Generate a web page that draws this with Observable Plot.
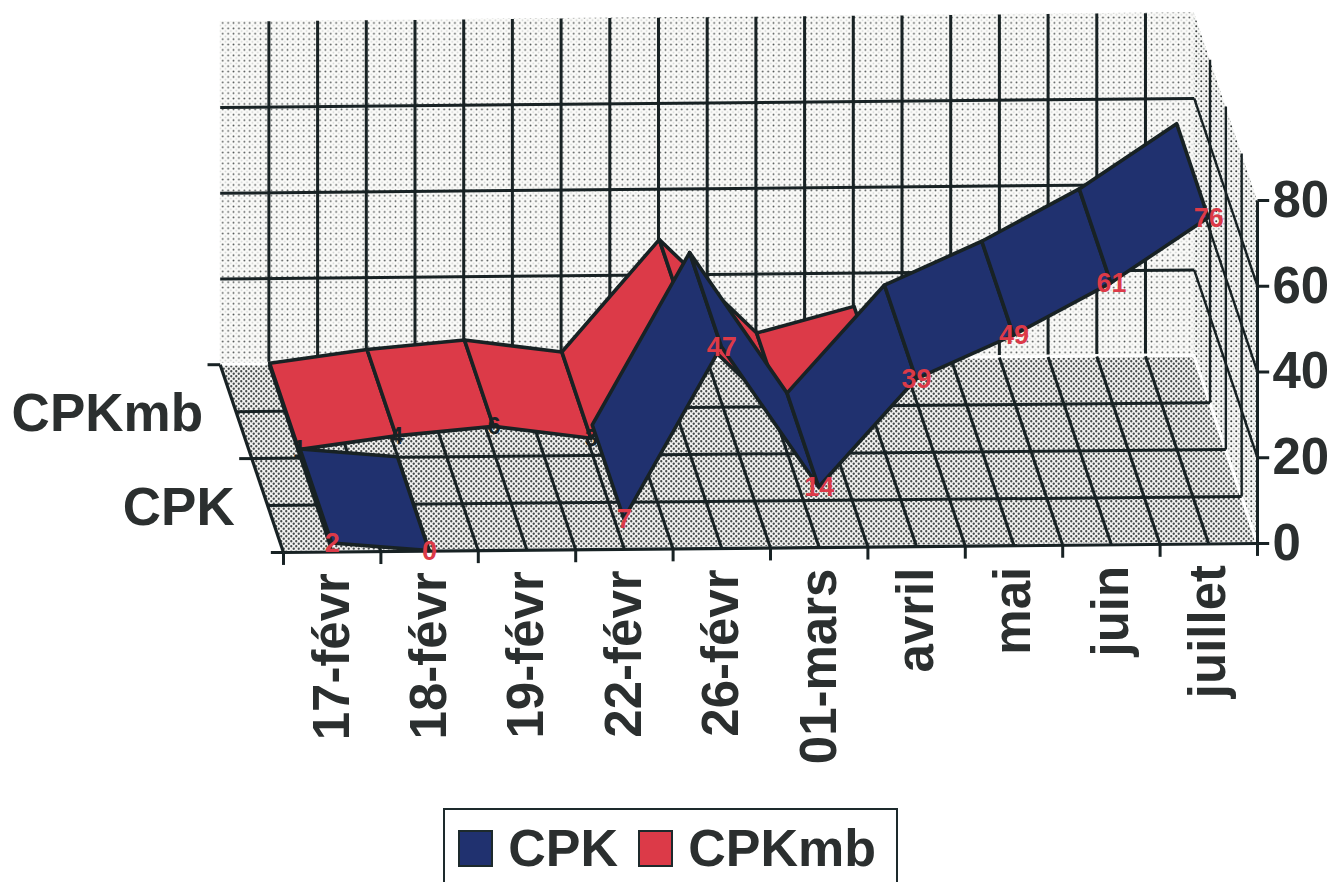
<!DOCTYPE html>
<html lang="fr">
<head>
<meta charset="utf-8">
<script src="https://cdn.jsdelivr.net/npm/d3@7"></script>
<script src="https://cdn.jsdelivr.net/npm/@observablehq/plot@0.6"></script>
<style>
  html, body { margin: 0; background: #fff; overflow: hidden; }
  #legend {
    box-sizing: border-box; margin: 2px 0 0 443px; width: 455px; height: 74px;
    border: 2px solid #1d2a2c; border-bottom: none;
    font: bold 52px "Liberation Sans", Arial, sans-serif; color: #2b2f2f;
    display: flex; align-items: flex-start; padding: 10px 0 0 13px;
  }
  #legend i { box-sizing: border-box; width: 37px; height: 37px; margin: 10px 15px 0 0; border: 2px solid #1d2a2c; display: block; }
  #legend span { margin-right: 20px; line-height: 56px; }
</style>
</head>
<body>
<div id="chart"></div>
<div id="legend"></div>
<script>
const categories = ["17-févr", "18-févr", "19-févr", "22-févr", "26-févr", "01-mars", "avril", "mai", "juin", "juillet"];
const cpk = [2, 0, null, 7, 47, 14, 39, 49, 61, 76];
const cpkmb = [1, 4, 6, 3, 29, 7, 13, null, null, null];
const valueTicks = [0, 20, 40, 60, 80];
const seriesNames = ["CPK", "CPKmb"];
const colors = {CPK: "#20316f", CPKmb: "#dc3a48"};
const ink = "#182224";

// Oblique 3D: a point is (category position, depth 0..1, value); depth and
// category position both shift the plotted coordinates.
const sx = (i, d) => i - 0.65 * d;
const sy = (i, d, v) => v + 43.8 * d + 0.21 * i;

const seg = (rows, o) => Plot.link(rows, {
  x1: (r) => sx(r[0], r[1]), y1: (r) => sy(r[0], r[1], r[2]),
  x2: (r) => sx(r[3], r[4]), y2: (r) => sy(r[3], r[4], r[5]),
  stroke: ink, strokeWidth: 3, ...o
});

// A planar patch spanned between two edges, each row holding [i1,d1,v1,i2,d2,v2]
const patch = (rows, o) => Plot.area(rows, {
  x1: (r) => sx(r[0], r[1]), y1: (r) => sy(r[0], r[1], r[2]),
  x2: (r) => sx(r[3], r[4]), y2: (r) => sy(r[3], r[4], r[5]),
  ...o
});

// Ribbon segments between neighbouring known values, painted left to right
function ribbon(values, d0, d1, fill) {
  const rows = [];
  values.forEach((v, i) => {
    const next = values[i + 1];
    if (v == null || next == null) return;
    rows.push({k: i, i: i + 0.5, v}, {k: i, i: i + 1.5, v: next});
  });
  return Plot.area(rows, {
    z: "k",
    x1: (r) => sx(r.i, d0), y1: (r) => sy(r.i, d0, r.v),
    x2: (r) => sx(r.i, d1), y2: (r) => sy(r.i, d1, r.v),
    fill, stroke: ink, strokeWidth: 3.6, strokeLinejoin: "round"
  });
}

function valueLabels(values, d, fill, fontSize) {
  const rows = values.map((v, i) => ({v, i: i + 0.5})).filter((r) => r.v != null);
  return Plot.text(rows, {
    x: (r) => sx(r.i, d), y: (r) => sy(r.i, d, r.v), text: (r) => String(r.v),
    fill, fontSize, fontWeight: "bold"
  });
}

function dots(id, pitch, bg, dotFill, r, checker) {
  const p = d3.create("svg:pattern").attr("id", id).attr("patternUnits", "userSpaceOnUse")
    .attr("width", pitch).attr("height", pitch);
  p.append("rect").attr("width", pitch).attr("height", pitch).attr("fill", bg);
  p.append("circle").attr("cx", pitch / 4).attr("cy", pitch / 4).attr("r", r).attr("fill", dotFill);
  p.append("circle").attr("cx", pitch * 3 / 4).attr("cy", pitch * 3 / 4).attr("r", r)
    .attr("fill", checker);
  return p.node();
}

const halves = d3.range(1, 20).map((k) => k / 2);
const depths = [0.25, 0.5, 0.75];
const levels = [20, 40, 60];

const plot = Plot.plot({
  width: 1334, height: 806, margin: 0,
  style: {fontFamily: "'Liberation Sans', Arial, sans-serif", background: "#fff"},
  x: {domain: [0, 10], range: [283, 1257], axis: null},
  y: {domain: [0, 80], range: [552, 209], axis: null},
  marks: [
    () => {
      const defs = d3.create("svg:defs");
      defs.append(() => dots("wall", 5.4, "#fbfbf9", "#4a4f4f", 0.9, "#d4d6d5"));
      defs.append(() => dots("side", 5, "#f7f8f6", "#3b4040", 1, "#b4b7b6"));
      defs.append(() => dots("floor", 5, "#f2f2f0", "#454a4a", 1.15, "#454a4a"));
      return defs.node();
    },
    // Walls and floor
    patch([[0, 1, 0, 0, 1, 80], [10, 1, 0, 10, 1, 80]], {fill: "url(#wall)"}),
    patch([[10, 0, 0, 10, 0, 80], [10, 1, 0, 10, 1, 80]], {fill: "url(#side)"}),
    patch([[0, 0, 0, 0, 1, 0], [10, 0, 0, 10, 1, 0]], {fill: "url(#floor)", stroke: "#fff", strokeWidth: 3}),
    // Back wall grid
    seg(halves.map((i) => [i, 1, 0.6, i, 1, 80])),
    seg(levels.map((v) => [0, 1, v, 10, 1, v])),
    // Right wall grid
    seg(depths.map((d) => [10, d, 0, 10, d, 80]), {strokeWidth: 2.4}),
    seg(levels.map((v) => [10, 0, v, 10, 1, v]), {strokeWidth: 2.4}),
    // Floor grid
    seg(halves.map((i) => [i, 0, 0, i, 1, 0])),
    seg(depths.map((d) => [0, d, 0, 10, d, 0])),
    seg([[0, 0, 0, 10, 0, 0], [0, 0, 0, 0, 1, 0]], {strokeWidth: 3.2}),
    // Series, rear one first
    ribbon(cpkmb, 0.52, 0.98, colors.CPKmb),
    valueLabels(cpkmb, 0.52, ink, 23),
    ribbon(cpk, 0, 0.5, colors.CPK),
    valueLabels(cpk, 0, colors.CPKmb, 27),
    // Value axis
    seg([[10, 0, 0, 10, 0, 80]]),
    Plot.link(valueTicks, {
      x1: () => sx(10, 0), x2: () => sx(10.12, 0),
      y1: (v) => sy(10, 0, v), y2: (v) => sy(10, 0, v), stroke: ink, strokeWidth: 3
    }),
    Plot.text(valueTicks, {
      x: () => sx(10, 0), y: (v) => sy(10, 0, v), text: String,
      dx: 15, textAnchor: "start", fill: "#2b2f2f", fontSize: 51, fontWeight: "bold"
    }),
    // Category axis
    Plot.link(d3.range(11), {
      x1: (i) => sx(i, 0), x2: (i) => sx(i, 0),
      y1: (i) => sy(i, 0, 0), y2: (i) => sy(i, 0, -2.9), stroke: ink, strokeWidth: 3
    }),
    Plot.text(categories, {
      x: (c, i) => sx(i + 0.5, 0), y: (c, i) => sy(i + 0.5, 0, 0), text: (c) => c,
      rotate: -90, textAnchor: "end", dy: 21, fill: "#2b2f2f", fontSize: 51, fontWeight: "bold"
    }),
    // Depth axis
    Plot.link([0, 0.5, 1], {
      x1: (d) => sx(0, d), x2: (d) => sx(-0.13, d),
      y1: (d) => sy(0, d, 0), y2: (d) => sy(0, d, 0), stroke: ink, strokeWidth: 3
    }),
    Plot.text(seriesNames, {
      x: (s, k) => sx(0, 0.25 + k * 0.5), y: (s, k) => sy(0, 0.25 + k * 0.5, 0), text: (s) => s,
      dx: -33, dy: 2, textAnchor: "end", fill: "#2b2f2f", fontSize: 53, fontWeight: "bold"
    })
  ]
});
document.getElementById("chart").append(plot);
plot.style.display = "block";

const legend = d3.select("#legend");
seriesNames.forEach((s) => {
  legend.append("i").style("background", colors[s]);
  legend.append("span").text(s);
});
</script>
</body>
</html>
